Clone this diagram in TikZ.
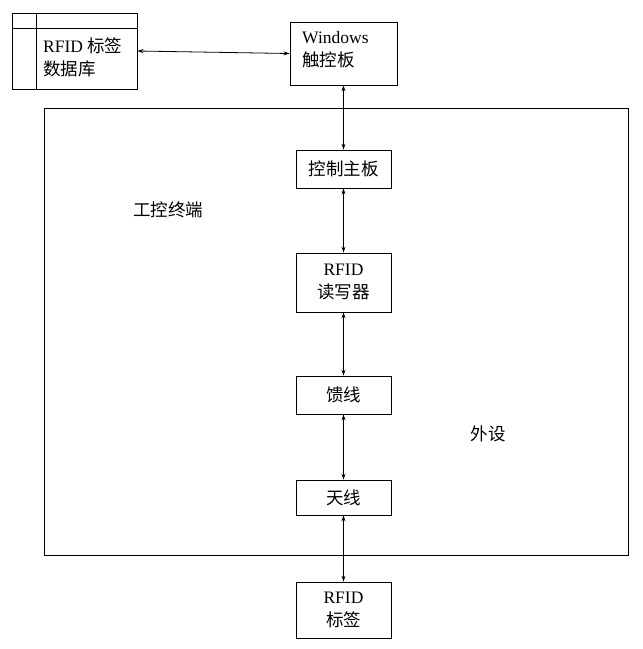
\documentclass[tikz,border=0pt]{standalone}
\usepackage{fontspec}
\setmainfont{Liberation Serif}
\newfontfamily\cjk{Noto Sans CJK SC}
\usetikzlibrary{arrows.meta}
\begin{document}
\begin{tikzpicture}[x=1pt,y=-1pt,
  box/.style={draw,line width=0.8pt,minimum width=95pt,inner sep=0pt},
  lbl/.style={inner sep=0pt,font=\fontsize{17.5}{23}\selectfont,align=center},
  conn/.style={line width=0.8pt,{Stealth[length=6pt,width=4pt]}-{Stealth[length=6pt,width=4pt]}}]
\useasboundingbox (0,0) rectangle (643,649);
% outer frame
\draw[line width=0.8pt] (44,108) rectangle (628,555);
% database box
\node[draw,line width=0.8pt,minimum width=125pt,minimum height=76pt,inner sep=0pt] (db) at (74.5,51) {};
\draw[line width=0.8pt] (12,28) -- (137,28);
\draw[line width=0.8pt] (36,13) -- (36,89);
\node[lbl,anchor=west,align=left] (dbt) at (43,57.5) {RFID {\cjk 标签}\\{\cjk 数据库}};
% windows box
\node[draw,line width=0.8pt,minimum width=107pt,minimum height=63pt,inner sep=0pt] (win) at (343.5,53.5) {};
\node[lbl,anchor=west,align=left] (wint) at (302,50) {Windows\\{\cjk 触控板}};
% chain
\node[box,minimum height=38pt] (mb) at (343.5,169) {};
\node[lbl] (mbt) at (mb) {\cjk 控制主板};
\node[box,minimum height=59pt] (rw) at (343.5,282.5) {};
\node[lbl] (rwt) at (343.5,282.5) {RFID\\{\cjk 读写器}};
\node[box,minimum height=38pt] (fx) at (343.5,395) {};
\node[lbl] (fxt) at (fx) {\cjk 馈线};
\node[box,minimum height=35pt] (tx) at (343.5,497.5) {};
\node[lbl] (txt) at (tx) {\cjk 天线};
\node[box,minimum height=56pt] (tag) at (343.5,610) {};
\node[lbl] (tagt) at (343.5,609.5) {RFID\\{\cjk 标签}};
% labels
\node[lbl] (gk) at (168,210) {\cjk 工控终端};
\node[lbl] (ws) at (488,434) {\cjk 外设};
% connectors
\draw[conn] (db.east) -- (win.west);
\draw[conn] (win.south) -- (mb.north);
\draw[conn] (mb.south) -- (rw.north);
\draw[conn] (rw.south) -- (fx.north);
\draw[conn] (fx.south) -- (tx.north);
\draw[conn] (tx.south) -- (tag.north);
\end{tikzpicture}
\end{document}
